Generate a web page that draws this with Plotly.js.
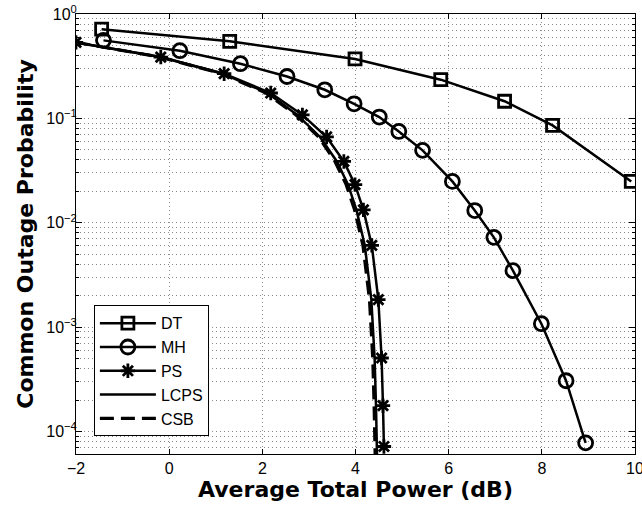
<!DOCTYPE html>
<html>
<head>
<meta charset="utf-8">
<script src="https://cdn.plot.ly/plotly-3.0.1.min.js"></script>
<style>body{margin:0;padding:0;background:#fff;}</style>
</head>
<body>
<div id="chart" style="width:642px;height:510px;"></div>
<script>
// ---- data ----
var dtX = [-1.45, 1.30, 3.99, 5.83, 7.20, 8.23, 9.92];
var dtY = [0.715, 0.547, 0.371, 0.235, 0.146, 0.0857, 0.0249];

var mhX = [-1.41, 0.23, 1.53, 2.53, 3.34, 3.97, 4.51, 4.93, 5.44, 6.08, 6.56, 6.97, 7.38, 7.99, 8.52, 8.94];
var mhY = [0.559, 0.445, 0.334, 0.252, 0.188, 0.138, 0.103, 0.075, 0.0494, 0.0249, 0.0131, 0.00725, 0.00348, 0.00108, 0.000307, 0.000078];

var psX = [-2.00, -0.18, 1.18, 2.18, 2.86, 3.38, 3.75, 3.99, 4.17, 4.35, 4.49, 4.56, 4.59, 4.61];
var psY = [0.535, 0.387, 0.268, 0.175, 0.108, 0.0664, 0.0387, 0.0232, 0.0133, 0.00608, 0.00184, 0.000507, 0.000177, 0.000072];

var lcpsX = [-2.00, -0.19, 1.15, 2.11, 2.75, 3.24, 3.60, 3.84, 4.02, 4.20, 4.34, 4.41, 4.44, 4.46, 4.47];
var lcpsY = [0.535, 0.387, 0.268, 0.175, 0.108, 0.0664, 0.0387, 0.0232, 0.0133, 0.00608, 0.00184, 0.000507, 0.000177, 0.000072, 0.00004];

var csbX = [-2.00, -0.20, 1.13, 2.08, 2.72, 3.21, 3.56, 3.80, 3.98, 4.16, 4.30, 4.37, 4.40, 4.42, 4.43];
var csbY = [0.535, 0.387, 0.268, 0.175, 0.108, 0.0664, 0.0387, 0.0232, 0.0133, 0.00608, 0.00184, 0.000507, 0.000177, 0.000072, 0.00004];

var xTicks = [-2, 0, 2, 4, 6, 8, 10];
var xTickText = ['\u22122', '0', '2', '4', '6', '8', '10'];
var yTicks = [1e-4, 1e-3, 1e-2, 1e-1, 1];
var yTickText = ['10<sup>\u22124</sup>', '10<sup>\u22123</sup>', '10<sup>\u22122</sup>', '10<sup>\u22121</sup>', '10<sup>0</sup>'];
var yMinorTicks = [];
[1e-5, 1e-4, 1e-3, 1e-2, 1e-1].forEach(function (d) {
  [2, 3, 4, 5, 6, 7, 8, 9].forEach(function (m) { yMinorTicks.push(m * d); });
});

var FONT = 'Liberation Sans';
var TFONT = 'DejaVu Sans';
var gridCol = '#8a8a8a';

var traces = [
  {x: dtX, y: dtY, name: 'DT', mode: 'lines+markers', legendgroup: 'a',
   line: {color: '#000', width: 2.5},
   marker: {symbol: 'square-open', size: 12, color: '#000', line: {color: '#000', width: 2.8}}},
  {x: mhX, y: mhY, name: 'MH', mode: 'lines+markers', legendgroup: 'b',
   line: {color: '#000', width: 2.5},
   marker: {symbol: 'circle-open', size: 14, color: '#000', line: {color: '#000', width: 2.8}}},
  {x: psX, y: psY, name: 'PS', mode: 'lines+markers', legendgroup: 'c',
   line: {color: '#000', width: 2.5},
   marker: {symbol: 'asterisk-open', size: 12, color: '#000', line: {color: '#000', width: 2.8}}},
  {x: lcpsX, y: lcpsY, name: 'LCPS', mode: 'lines', legendgroup: 'd',
   line: {color: '#000', width: 2.5}},
  {x: csbX, y: csbY, name: 'CSB', mode: 'lines', legendgroup: 'e',
   line: {color: '#000', width: 3.2, dash: '14px,7px'}}
];

var layout = {
  width: 642, height: 510,
  margin: {l: 76, r: 7, t: 14, b: 56, pad: 0},
  paper_bgcolor: '#fff', plot_bgcolor: '#fff',
  font: {family: FONT, color: '#000', size: 16},
  showlegend: true,
  legend: {
    x: 0.032, xanchor: 'left', y: 0.338, yanchor: 'top',
    bgcolor: '#fff', bordercolor: '#000', borderwidth: 1,
    font: {family: FONT, size: 16, color: '#000'},
    itemwidth: 56, tracegroupgap: 2, traceorder: 'normal'
  },
  xaxis: {
    range: [-2, 10], tickmode: 'array', tickvals: xTicks, ticktext: xTickText,
    ticks: 'inside', ticklen: 5, tickcolor: '#000', tickwidth: 1,
    showline: true, linecolor: '#000', linewidth: 1, mirror: 'ticks',
    showgrid: true, gridcolor: gridCol, gridwidth: 1, griddash: '1px,3px',
    zeroline: false, ticklabeloverflow: 'allow',
    tickfont: {family: FONT, size: 16, color: '#000'},
    title: {text: 'Average Total Power (dB)', standoff: 3,
            font: {family: TFONT, size: 22, weight: 'bold', color: '#000'}}
  },
  yaxis: {
    type: 'log', range: [Math.log10(6.1e-5), 0],
    tickmode: 'array', tickvals: yTicks, ticktext: yTickText,
    ticks: 'inside', ticklen: 6, tickcolor: '#000', tickwidth: 1,
    showline: true, linecolor: '#000', linewidth: 1, mirror: 'ticks',
    showgrid: true, gridcolor: gridCol, gridwidth: 1, griddash: '1px,3px',
    zeroline: false, ticklabeloverflow: 'allow', ticklabelstandoff: -5,
    tickfont: {family: FONT, size: 16, color: '#000'},
    minor: {tickmode: 'array', tickvals: yMinorTicks, ticks: 'inside', ticklen: 3,
            tickcolor: '#000', showgrid: true, gridcolor: gridCol, gridwidth: 1, griddash: '1px,3px'},
    title: {text: 'Common Outage Probability', standoff: 6,
            font: {family: TFONT, size: 22, weight: 'bold', color: '#000'}}
  }
};

Plotly.newPlot('chart', traces, layout, {displayModeBar: false, staticPlot: true});
</script>
</body>
</html>
